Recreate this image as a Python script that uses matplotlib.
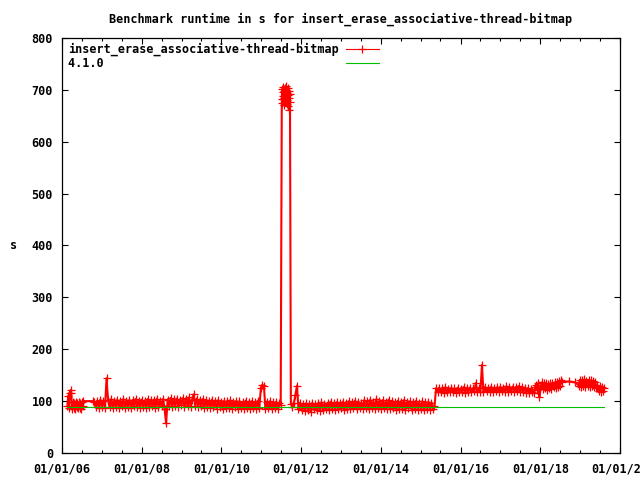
import matplotlib
matplotlib.use("Agg")
import matplotlib.pyplot as plt
import matplotlib.dates as mdates
import pandas as pd
import numpy as np

# ---- data ----
title = "Benchmark runtime in s for insert_erase_associative-thread-bitmap"
series_name = "insert_erase_associative-thread-bitmap"
baseline_name = "4.1.0"
ylabel = "s"

# runs: (start date, spacing, values)
seg_a_start, seg_a_freq = "2006-02-20", "7D"
seg_a = [91, 110, 86, 115, 121, 115, 84, 98, 87, 97, 85, 99, 88, 96, 86, 98,
         87, 97, 85, 99, 90, 100]

seg_b_start, seg_b_freq = "2006-10-10", "14D"
seg_b = [100, 98, 88, 101, 86, 103, 89, 100, 87, 144,
         102, 88, 104, 86, 101, 89, 103, 87, 100, 90,
         104, 87, 101, 89, 103, 86, 102, 90, 104, 88,
         101, 87, 103, 89, 100, 86, 104, 88, 102, 90,
         103, 87, 105, 89, 101, 91, 104, 85, 57, 103,
         90, 106, 88, 104, 91, 105, 89, 103, 92, 106,
         88, 104, 90, 107, 89, 103, 113, 91, 105, 88,
         103, 90, 104, 87, 102, 89, 101, 86, 103, 88,
         100, 85, 102, 88, 99, 84, 101, 87, 100, 86,
         102, 85, 99, 88, 101, 84, 100, 87, 98, 85,
         101, 86, 99, 84, 100, 87, 98, 85, 101, 86,
         125, 131, 130, 85, 99, 86, 100, 84, 98, 87,
         99, 85, 97, 92]

seg_c_start, seg_c_freq = "2011-07-08", "3D"
seg_c = [682, 701, 675, 695, 688, 706, 670, 698, 684, 703, 679, 692, 708,
         686, 699, 673, 694, 681, 704, 690, 668, 697, 662, 685, 676, 693]

seg_d_start, seg_d_freq = "2011-09-29", "14D"
seg_d = [95, 88, 97, 112, 130, 84, 97, 82, 95, 81,
         96, 83, 94, 80, 97, 84, 95, 82, 96, 81,
         98, 83, 95, 84, 97, 82, 99, 85, 96, 83,
         98, 84, 97, 86, 99, 83, 96, 85, 100, 84,
         98, 86, 101, 84, 99, 87, 97, 85, 102, 86,
         100, 84, 103, 87, 99, 85, 104, 86, 101, 84,
         102, 86, 99, 85, 103, 84, 100, 87, 98, 83,
         101, 85, 99, 84, 102, 83, 98, 86, 100, 82,
         99, 84, 101, 83, 97, 85, 100, 82, 98, 84,
         99, 83, 97, 85, 90]

seg_e_start, seg_e_freq = "2015-05-22", "14D"
seg_e = [125, 117, 126, 118, 125, 116, 127, 118, 124, 117,
         126, 118, 125, 116, 126, 117, 124, 118, 127, 116,
         125, 118, 126, 117, 125, 119, 135, 117, 126, 118,
         170, 117, 127, 119, 126, 118, 128, 117, 126, 119,
         127, 118, 128, 119, 126, 118, 129, 117, 127, 120,
         128, 118, 127, 119, 129, 117, 127, 118, 126, 116,
         125, 115, 124, 117]

seg_f_start, seg_f_freq = "2017-11-03", "10D"
seg_f = [116, 127, 131, 122, 135, 108, 124, 136, 123, 134, 125, 135, 122,
         133, 126, 134, 124, 135, 127, 136, 125, 137, 128, 138, 130, 140]

seg_g_start, seg_g_freq = "2018-07-20", "60D"
seg_g = [137, 138, 136]

seg_h_start, seg_h_freq = "2018-12-20", "10D"
seg_h = [130, 141, 128, 140, 129, 142, 127, 139, 130, 141, 128, 140,
         129, 138, 127, 137, 126, 131, 119, 129, 118, 128, 120, 125]

baseline_dates = ["2006-02-20", "2019-08-07"]
baseline_vals = [88.5, 88.5]

segments = [(seg_a_start, seg_a_freq, seg_a), (seg_b_start, seg_b_freq, seg_b),
            (seg_c_start, seg_c_freq, seg_c), (seg_d_start, seg_d_freq, seg_d),
            (seg_e_start, seg_e_freq, seg_e), (seg_f_start, seg_f_freq, seg_f),
            (seg_g_start, seg_g_freq, seg_g), (seg_h_start, seg_h_freq, seg_h)]

dates = []
vals = []
for start, freq, v in segments:
    dates.extend(pd.date_range(start, periods=len(v), freq=freq))
    vals.extend(v)

# ---- plot ----
FONT = "DejaVu Sans Mono"
FS = 8.5
plt.rcParams['font.family'] = FONT
plt.rcParams['font.weight'] = 'bold'
plt.rcParams['font.size'] = FS

fig = plt.figure(figsize=(6.4, 4.8), dpi=100)
ax = fig.add_axes([62/640, 1-453/480, 558/640, 415/480])

ax.plot(dates, vals, color='#ff0000', lw=1.5, marker='+', ms=5.5, mew=0.9,
        label=series_name)
ax.plot(pd.to_datetime(baseline_dates), baseline_vals, color='#00c000', lw=0.8,
        label=baseline_name.ljust(len(series_name)))

ax.set_xlim(pd.Timestamp("2006-01-01"), pd.Timestamp("2020-01-01"))
ax.set_ylim(0, 800)
ax.set_yticks(np.arange(0, 801, 100))
ax.xaxis.set_major_locator(mdates.YearLocator(2))
ax.xaxis.set_major_formatter(mdates.DateFormatter("%m/%d/%y"))
ax.xaxis.set_minor_locator(mdates.MonthLocator(bymonth=[1, 7]))

for s in ax.spines.values():
    s.set_linewidth(0.9)
ax.tick_params(which='both', direction='in', top=True, right=True, width=0.8,
               labelsize=FS)
ax.tick_params(which='major', length=4.5, pad=6.5)
ax.tick_params(which='minor', length=2.3)
ax.tick_params(axis='y', which='minor', left=False, right=False)
for lab in ax.get_xticklabels() + ax.get_yticklabels():
    lab.set_fontweight('bold')

leg = ax.legend(loc='upper left', bbox_to_anchor=(6/558, 1-5/415),
                borderaxespad=0, borderpad=0, frameon=False, markerfirst=False,
                handlelength=2.8, handletextpad=0.6, labelspacing=0.05,
                prop={'family': FONT, 'weight': 'bold', 'size': FS})
for h in leg.legend_handles:
    h.set_linewidth(0.8)

fig.text(341/640, 1-19/480, title, ha='center', va='center',
         fontsize=FS, fontweight='bold')
fig.text(14/640, 1-246/480, ylabel, ha='center', va='center',
         fontsize=FS, fontweight='bold')

fig.savefig("out.png", dpi=100)
